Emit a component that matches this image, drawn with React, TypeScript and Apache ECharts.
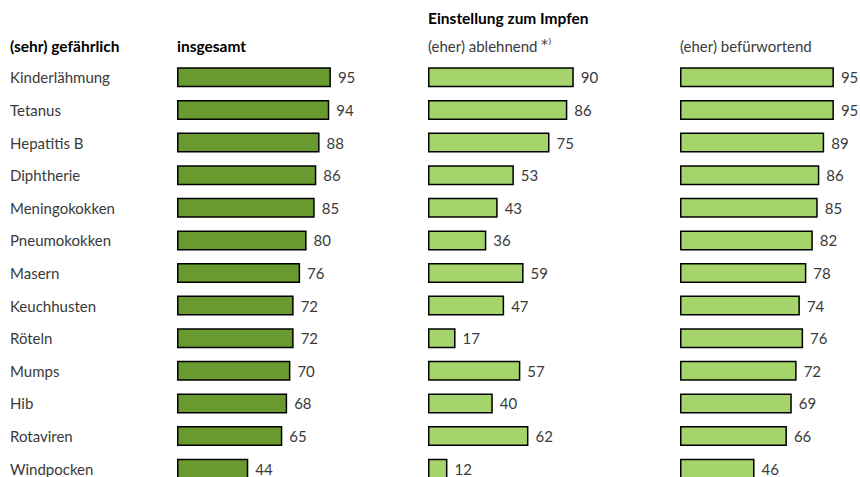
import React, { useEffect, useRef } from "react";
import * as echarts from "echarts";

const categories = [
  "Kinderlähmung",
  "Tetanus",
  "Hepatitis B",
  "Diphtherie",
  "Meningokokken",
  "Pneumokokken",
  "Masern",
  "Keuchhusten",
  "Röteln",
  "Mumps",
  "Hib",
  "Rotaviren",
  "Windpocken",
];
const insgesamt = [95, 94, 88, 86, 85, 80, 76, 72, 72, 70, 68, 65, 44];
const ablehnend = [90, 86, 75, 53, 43, 36, 59, 47, 17, 57, 40, 62, 12];
const befuerwortend = [95, 95, 89, 86, 85, 82, 78, 74, 76, 72, 69, 66, 46];

const FONT = "Lato";
const TEXT = "#3a3a3a";

export default function App() {
  const ref = useRef<HTMLDivElement>(null);
  useEffect(() => {
    document.body.style.margin = "0";
    const chart = echarts.init(ref.current!, undefined, { renderer: "svg" });
    const lefts = [177, 428, 680];
    const gridTop = 61;
    const gridH = 424;
    const datasets = [insgesamt, ablehnend, befuerwortend];
    const colors = ["#689a2f", "#a6d46c", "#a6d46c"];
    const grids = lefts.map((l) => ({ left: l, top: gridTop, width: 162, height: gridH }));
    const xAxes = lefts.map((_, i) => ({
      type: "value",
      gridIndex: i,
      min: 0,
      max: 100,
      show: false,
    }));
    const yAxes = lefts.map((_, i) => ({
      type: "category",
      gridIndex: i,
      data: categories,
      inverse: true,
      axisLine: { show: false },
      axisTick: { show: false },
      splitLine: { show: false },
      axisLabel: {
        show: i === 0,
        align: "left",
        margin: 167,
        fontFamily: FONT,
        fontSize: 15,
        color: TEXT,
      },
    }));
    const series = datasets.map((d, i) => ({
      type: "bar",
      xAxisIndex: i,
      yAxisIndex: i,
      data: d,
      barWidth: 20,
      itemStyle: { color: colors[i], borderColor: "#000", borderWidth: 1.5 },
      label: {
        show: true,
        position: "right",
        distance: 7,
        fontFamily: FONT,
        fontSize: 15,
        color: TEXT,
      },
    }));
    const hdr = (x: number, y: number, text: string, bold: boolean) => ({
      type: "text",
      left: x,
      top: y,
      style: {
        text,
        fontFamily: FONT,
        fontSize: bold ? 15.5 : 15,
        fontWeight: bold ? "bold" : "normal",
        fill: bold ? "#000" : TEXT,
      },
    });
    chart.setOption({
      animation: false,
      grid: grids,
      xAxis: xAxes,
      yAxis: yAxes,
      series,
      graphic: [
        hdr(10, 38, "(sehr) gefährlich", true),
        hdr(177, 38, "insgesamt", true),
        hdr(428, 10, "Einstellung zum Impfen", true),
        hdr(428, 38, "(eher) ablehnend", false),
        {
          type: "text",
          left: 541,
          top: 37,
          style: { text: "*⁾", fontFamily: "DejaVu Sans", fontSize: 14, fill: TEXT },
        },
        hdr(680, 38, "(eher) befürwortend", false),
      ],
    });
    return () => chart.dispose();
  }, []);
  return (
    <div
      ref={ref}
      style={{ position: "absolute", left: 0, top: 0, width: 860, height: 500 }}
    />
  );
}
